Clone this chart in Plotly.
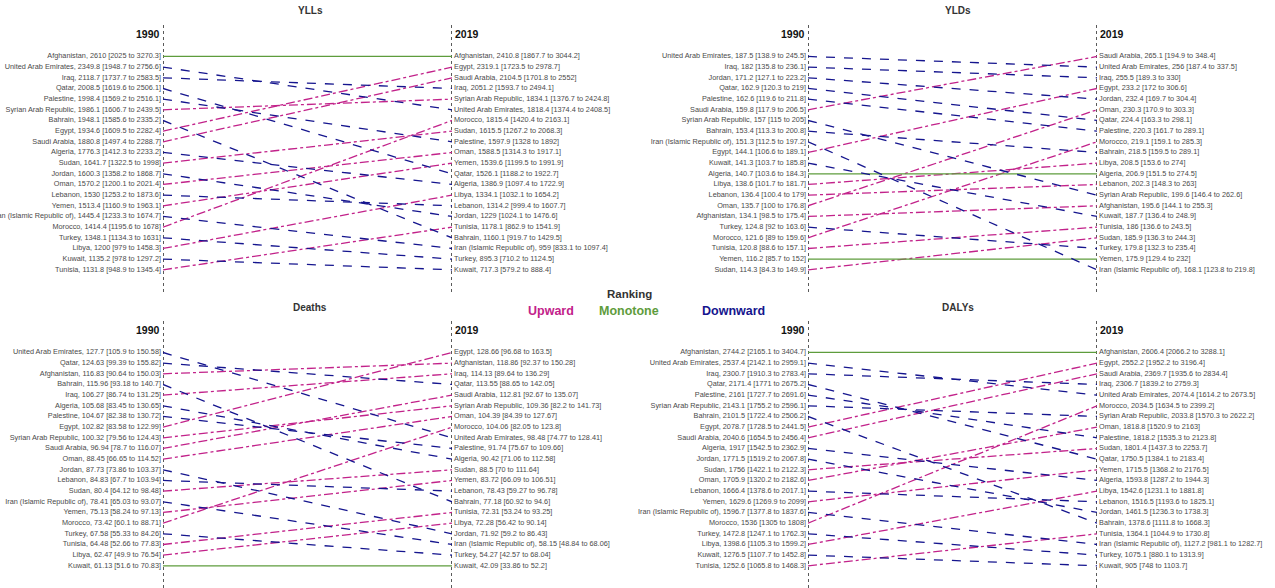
import plotly.graph_objects as go

# ---------------- DATA ----------------
yll_1990_names = ["Afghanistan", "United Arab Emirates", "Iraq", "Qatar", "Palestine", "Syrian Arab Republic",
                  "Bahrain", "Egypt", "Saudi Arabia", "Algeria", "Sudan", "Jordan", "Oman", "Lebanon", "Yemen",
                  "Iran (Islamic Republic of)", "Morocco", "Turkey", "Libya", "Kuwait", "Tunisia"]
yll_1990_val = [2610, 2349.8, 2118.7, 2008.5, 1998.4, 1986.1, 1948.1, 1934.6, 1880.8, 1776.3, 1641.7, 1600.3,
                1570.2, 1530, 1513.4, 1445.4, 1414.4, 1348.1, 1200, 1135.2, 1131.8]
yll_1990_lo = [2025, 1948.7, 1737.7, 1619.6, 1569.2, 1606.7, 1585.6, 1609.5, 1497.4, 1412.3, 1322.5, 1358.2,
               1200.1, 1253.2, 1160.9, 1233.3, 1195.6, 1134.3, 979, 978, 948.9]
yll_1990_hi = [3270.3, 2756.6, 2583.5, 2506.1, 2516.1, 2439.5, 2335.2, 2282.4, 2288.7, 2233.2, 1998, 1868.7,
               2021.4, 1873.6, 1963.1, 1674.7, 1678, 1631, 1458.3, 1297.2, 1345.4]
yll_2019_names = ["Afghanistan", "Egypt", "Saudi Arabia", "Iraq", "Syrian Arab Republic", "United Arab Emirates",
                  "Morocco", "Sudan", "Palestine", "Oman", "Yemen", "Qatar", "Algeria", "Libya", "Lebanon",
                  "Jordan", "Tunisia", "Bahrain", "Iran (Islamic Republic of)", "Turkey", "Kuwait"]
yll_2019_val = [2410.8, 2319.1, 2104.5, 2051.2, 1834.1, 1818.4, 1815.4, 1615.5, 1597.9, 1588.5, 1539.6, 1526.1,
                1386.9, 1334.1, 1314.2, 1229, 1178.1, 1160.1, 959, 895.3, 717.3]
yll_2019_lo = [1867.7, 1723.5, 1701.8, 1593.7, 1376.7, 1374.4, 1420.4, 1267.2, 1328, 1314.3, 1199.5, 1188.2,
               1097.4, 1032.1, 999.4, 1024.1, 862.9, 919.7, 833.1, 710.2, 579.2]
yll_2019_hi = [3044.2, 2978.7, 2552, 2494.1, 2424.8, 2408.5, 2163.1, 2068.3, 1892, 1917.1, 1991.9, 1922.7,
               1722.9, 1654.2, 1607.7, 1476.6, 1541.9, 1429.5, 1097.4, 1124.5, 888.4]

yld_1990_names = ["United Arab Emirates", "Iraq", "Jordan", "Qatar", "Palestine", "Saudi Arabia",
                  "Syrian Arab Republic", "Bahrain", "Iran (Islamic Republic of)", "Egypt", "Kuwait", "Algeria",
                  "Libya", "Lebanon", "Oman", "Afghanistan", "Turkey", "Morocco", "Tunisia", "Yemen", "Sudan"]
yld_1990_val = [187.5, 182, 171.2, 162.9, 162.6, 159.8, 157, 153.4, 151.3, 144.1, 141.3, 140.7, 138.6, 136.4,
                135.7, 134.1, 124.8, 121.6, 120.8, 116.2, 114.3]
yld_1990_lo = [138.9, 135.8, 127.1, 120.3, 119.6, 117.9, 115, 113.3, 112.5, 106.6, 103.7, 103.6, 101.7, 100.4,
               100, 98.5, 92, 89, 88.6, 85.7, 84.3]
yld_1990_hi = [245.5, 236.1, 223.2, 219, 211.8, 206.5, 205, 200.8, 197.2, 189.1, 185.8, 184.3, 181.7, 179,
               176.8, 175.4, 163.6, 159.6, 157.1, 152, 149.9]
yld_2019_names = ["Saudi Arabia", "United Arab Emirates", "Iraq", "Egypt", "Jordan", "Oman", "Qatar", "Palestine",
                  "Morocco", "Bahrain", "Libya", "Algeria", "Lebanon", "Syrian Arab Republic", "Afghanistan",
                  "Kuwait", "Tunisia", "Sudan", "Turkey", "Yemen", "Iran (Islamic Republic of)"]
yld_2019_val = [265.1, 256, 255.5, 233.2, 232.4, 230.3, 224.4, 220.3, 219.1, 218.5, 208.5, 206.9, 202.3, 199.6,
                195.6, 187.7, 186, 185.9, 179.8, 175.9, 168.1]
yld_2019_lo = [194.9, 187.4, 189.3, 172, 169.7, 170.9, 163.3, 161.7, 159.1, 159.5, 153.6, 151.5, 148.3, 146.4,
               144.1, 136.4, 136.6, 136.3, 132.3, 129.4, 123.8]
yld_2019_hi = [348.4, 337.5, 330, 306.6, 304.4, 303.3, 298.1, 289.1, 285.3, 289.1, 274, 274.5, 263, 262.6,
               255.3, 248.9, 243.5, 244.3, 235.4, 232, 219.8]

death_1990_names = ["United Arab Emirates", "Qatar", "Afghanistan", "Bahrain", "Iraq", "Algeria", "Palestine",
                    "Egypt", "Syrian Arab Republic", "Saudi Arabia", "Oman", "Jordan", "Lebanon", "Sudan",
                    "Iran (Islamic Republic of)", "Yemen", "Morocco", "Turkey", "Tunisia", "Libya", "Kuwait"]
death_1990_val = [127.7, 124.63, 116.83, 115.96, 106.27, 105.68, 104.67, 102.82, 100.32, 96.94, 88.45, 87.73,
                  84.83, 80.4, 78.41, 75.13, 73.42, 67.58, 64.48, 62.47, 61.13]
death_1990_lo = [105.9, 99.39, 90.64, 93.18, 86.74, 83.45, 82.38, 83.58, 79.56, 78.7, 66.65, 73.86, 67.7, 64.12,
                 65.03, 58.24, 60.1, 55.33, 52.66, 49.9, 51.6]
death_1990_hi = [150.58, 155.82, 150.03, 140.7, 131.25, 130.65, 130.72, 122.99, 124.43, 116.07, 114.52, 103.37,
                 103.94, 98.48, 93.07, 97.13, 88.71, 84.26, 77.83, 76.54, 70.83]
death_2019_names = ["Egypt", "Afghanistan", "Iraq", "Qatar", "Saudi Arabia", "Syrian Arab Republic", "Oman",
                    "Morocco", "United Arab Emirates", "Palestine", "Algeria", "Sudan", "Yemen", "Lebanon",
                    "Bahrain", "Tunisia", "Libya", "Jordan", "Iran (Islamic Republic of)", "Turkey", "Kuwait"]
death_2019_val = [128.66, 118.86, 114.13, 113.55, 112.81, 109.36, 104.39, 104.06, 98.48, 91.74, 90.42, 88.5,
                  83.72, 78.43, 77.18, 72.31, 72.28, 71.92, 58.15, 54.27, 42.09]
death_2019_lo = [96.68, 92.37, 89.64, 88.65, 92.67, 82.2, 84.39, 82.05, 74.77, 75.67, 71.06, 70, 66.09, 59.27,
                 60.92, 53.24, 56.42, 59.2, 48.84, 42.57, 33.86]
death_2019_hi = [163.5, 150.28, 136.29, 142.05, 135.07, 141.73, 127.67, 123.8, 128.41, 109.66, 112.58, 111.64,
                 106.51, 96.78, 94.6, 93.25, 90.14, 86.43, 68.06, 68.04, 52.2]

daly_1990_names = ["Afghanistan", "United Arab Emirates", "Iraq", "Qatar", "Palestine", "Syrian Arab Republic",
                   "Bahrain", "Egypt", "Saudi Arabia", "Algeria", "Jordan", "Sudan", "Oman", "Lebanon", "Yemen",
                   "Iran (Islamic Republic of)", "Morocco", "Turkey", "Libya", "Kuwait", "Tunisia"]
daly_1990_val = [2744.2, 2537.4, 2300.7, 2171.4, 2161, 2143.1, 2101.5, 2078.7, 2040.6, 1917, 1771.5, 1756,
                 1705.9, 1666.4, 1629.6, 1596.7, 1536, 1472.8, 1398.6, 1276.5, 1252.6]
daly_1990_lo = [2165.1, 2142.1, 1910.3, 1771, 1727.7, 1755.2, 1722.4, 1728.5, 1654.5, 1542.5, 1519.2, 1422.1,
                1320.2, 1378.6, 1269.9, 1377.8, 1305, 1247.1, 1105.3, 1107.7, 1065.8]
daly_1990_hi = [3404.7, 2959.1, 2783.4, 2675.2, 2691.6, 2596.1, 2506.2, 2441.5, 2456.4, 2362.9, 2067.8, 2122.3,
                2182.6, 2017.1, 2099, 1837.6, 1808, 1762.3, 1599.2, 1452.8, 1468.3]
daly_2019_names = ["Afghanistan", "Egypt", "Saudi Arabia", "Iraq", "United Arab Emirates", "Morocco",
                   "Syrian Arab Republic", "Oman", "Palestine", "Sudan", "Qatar", "Yemen", "Algeria", "Libya",
                   "Lebanon", "Jordan", "Bahrain", "Tunisia", "Iran (Islamic Republic of)", "Turkey", "Kuwait"]
daly_2019_val = [2606.4, 2552.2, 2369.7, 2306.7, 2074.4, 2034.5, 2033.8, 1818.8, 1818.2, 1801.4, 1750.5, 1715.5,
                 1593.8, 1542.6, 1516.5, 1461.5, 1378.6, 1364.1, 1127.2, 1075.1, 905]
daly_2019_lo = [2066.2, 1952.2, 1935.6, 1839.2, 1614.2, 1634.5, 1570.3, 1520.9, 1535.3, 1437.3, 1384.1, 1368.2,
                1287.2, 1231.1, 1193.6, 1236.3, 1111.8, 1044.9, 981.1, 880.1, 748]
daly_2019_hi = [3288.1, 3196.4, 2834.4, 2759.3, 2673.5, 2399.2, 2622.2, 2163, 2123.8, 2253.7, 2183.4, 2176.5,
                1944.3, 1881.8, 1825.1, 1738.3, 1668.3, 1730.8, 1282.7, 1313.9, 1103.7]

panel_titles = ["YLLs", "YLDs", "Deaths", "DALYs"]
year_labels = ["1990", "2019"]
category_names = ["Upward", "Monotone", "Downward"]

# ---------------- STYLE ----------------
W, H = 1275, 588
COLORS = {"Upward": "#C2228A", "Monotone": "#5E9C3C", "Downward": "#15158E"}
DASHES = {"Upward": "dashdot", "Monotone": "solid", "Downward": "dash"}
LABEL_FONT = dict(family="Liberation Sans, Arial, sans-serif", size=7.3, color="#4a4a4a")
YRANGE = [23.08, -2.23]
NBSP = "\u00a0"

panels = [
    (yll_1990_names, yll_1990_val, yll_1990_lo, yll_1990_hi, yll_2019_names, yll_2019_val, yll_2019_lo, yll_2019_hi),
    (yld_1990_names, yld_1990_val, yld_1990_lo, yld_1990_hi, yld_2019_names, yld_2019_val, yld_2019_lo, yld_2019_hi),
    (death_1990_names, death_1990_val, death_1990_lo, death_1990_hi, death_2019_names, death_2019_val, death_2019_lo, death_2019_hi),
    (daly_1990_names, daly_1990_val, daly_1990_lo, daly_1990_hi, daly_2019_names, daly_2019_val, daly_2019_lo, daly_2019_hi),
]

xdomains = [[163 / W, 452 / W], [808 / W, 1097 / W], [163 / W, 452 / W], [808 / W, 1097 / W]]
ydomains = [[1 - 292 / H, 1 - 22 / H], [1 - 292 / H, 1 - 22 / H], [0, 1 - 318 / H], [0, 1 - 318 / H]]
title_pos = [(310, 10), (958, 10), (310, 307), (958, 307)]


def fmt(v):
    return f"{v:g}"


fig = go.Figure()
shapes = []
annotations = []

for p, (n1, v1, l1, h1, n2, v2, l2, h2) in enumerate(panels):
    ax = "" if p == 0 else str(p + 1)
    xref, yref = "x" + ax, "y" + ax
    rank1 = {n: i + 1 for i, n in enumerate(n1)}
    rank2 = {n: i + 1 for i, n in enumerate(n2)}

    # connecting lines grouped by category
    for cat in category_names:
        xs, ys = [], []
        for n in n1:
            r1, r2 = rank1[n], rank2[n]
            c = "Upward" if r2 < r1 else ("Downward" if r2 > r1 else "Monotone")
            if c == cat:
                xs += [0, 1, None]
                ys += [r1, r2, None]
        fig.add_trace(go.Scatter(x=xs, y=ys, mode="lines", xaxis=xref, yaxis=yref,
                                 line=dict(color=COLORS[cat], dash=DASHES[cat], width=1.3),
                                 hoverinfo="skip", showlegend=False))

    # labels
    t1 = [f"{n}, {fmt(v)} [{fmt(lo)} to {fmt(hi)}]{NBSP}" for n, v, lo, hi in zip(n1, v1, l1, h1)]
    t2 = [f"{NBSP}{n}, {fmt(v)} [{fmt(lo)} to {fmt(hi)}]" for n, v, lo, hi in zip(n2, v2, l2, h2)]
    fig.add_trace(go.Scatter(x=[0] * len(n1), y=[rank1[n] for n in n1], mode="text", text=t1,
                             textposition="middle left", textfont=LABEL_FONT, cliponaxis=False,
                             xaxis=xref, yaxis=yref, hoverinfo="skip", showlegend=False))
    fig.add_trace(go.Scatter(x=[1] * len(n2), y=[rank2[n] for n in n2], mode="text", text=t2,
                             textposition="middle right", textfont=LABEL_FONT, cliponaxis=False,
                             xaxis=xref, yaxis=yref, hoverinfo="skip", showlegend=False))

    # dotted year lines
    for xv in (0, 1):
        shapes.append(dict(type="line", xref=xref, yref=yref + " domain", x0=xv, x1=xv, y0=0, y1=1,
                           line=dict(color="#5a5a5a", width=2, dash="dot"), layer="below"))

    # year headers
    annotations.append(dict(x=0, y=-1.1, xref=xref, yref=yref, text="<b>" + year_labels[0] + "</b>",
                            xanchor="right", yanchor="middle", xshift=-1, showarrow=False,
                            font=dict(family="Liberation Sans, Arial", size=10.5, color="#111")))
    annotations.append(dict(x=1, y=-1.1, xref=xref, yref=yref, text="<b>" + year_labels[1] + "</b>",
                            xanchor="left", yanchor="middle", xshift=1, showarrow=False,
                            font=dict(family="Liberation Sans, Arial", size=10.5, color="#111")))

    # panel title
    tx, ty = title_pos[p]
    annotations.append(dict(x=tx / W, y=1 - ty / H, xref="paper", yref="paper",
                            text="<b>" + panel_titles[p] + "</b>", xanchor="center", yanchor="middle",
                            showarrow=False, font=dict(family="Liberation Sans, Arial", size=10, color="#333")))

# legend text
annotations.append(dict(x=629 / W, y=1 - 294 / H, xref="paper", yref="paper", text="<b>Ranking</b>",
                        showarrow=False, xanchor="center", yanchor="middle",
                        font=dict(family="Liberation Sans, Arial", size=11.5, color="#333")))
for cat, cx in zip(category_names, [551, 629, 733]):
    annotations.append(dict(x=cx / W, y=1 - 311 / H, xref="paper", yref="paper", text="<b>" + cat + "</b>",
                            showarrow=False, xanchor="center", yanchor="middle",
                            font=dict(family="Liberation Sans, Arial", size=12.5, color=COLORS[cat])))

layout = dict(width=W, height=H, margin=dict(l=0, r=0, t=0, b=0), plot_bgcolor="white",
              paper_bgcolor="white", shapes=shapes, annotations=annotations, showlegend=False)
for p in range(4):
    ax = "" if p == 0 else str(p + 1)
    layout["xaxis" + ax] = dict(domain=xdomains[p], range=[0, 1], visible=False, fixedrange=True,
                                anchor="y" + ax)
    layout["yaxis" + ax] = dict(domain=ydomains[p], range=YRANGE, visible=False, fixedrange=True,
                                anchor="x" + ax)
fig.update_layout(**layout)

fig.write_html("out.html", config={"displayModeBar": False},
               post_script="document.body.style.margin='0';document.body.style.overflow='hidden';")
